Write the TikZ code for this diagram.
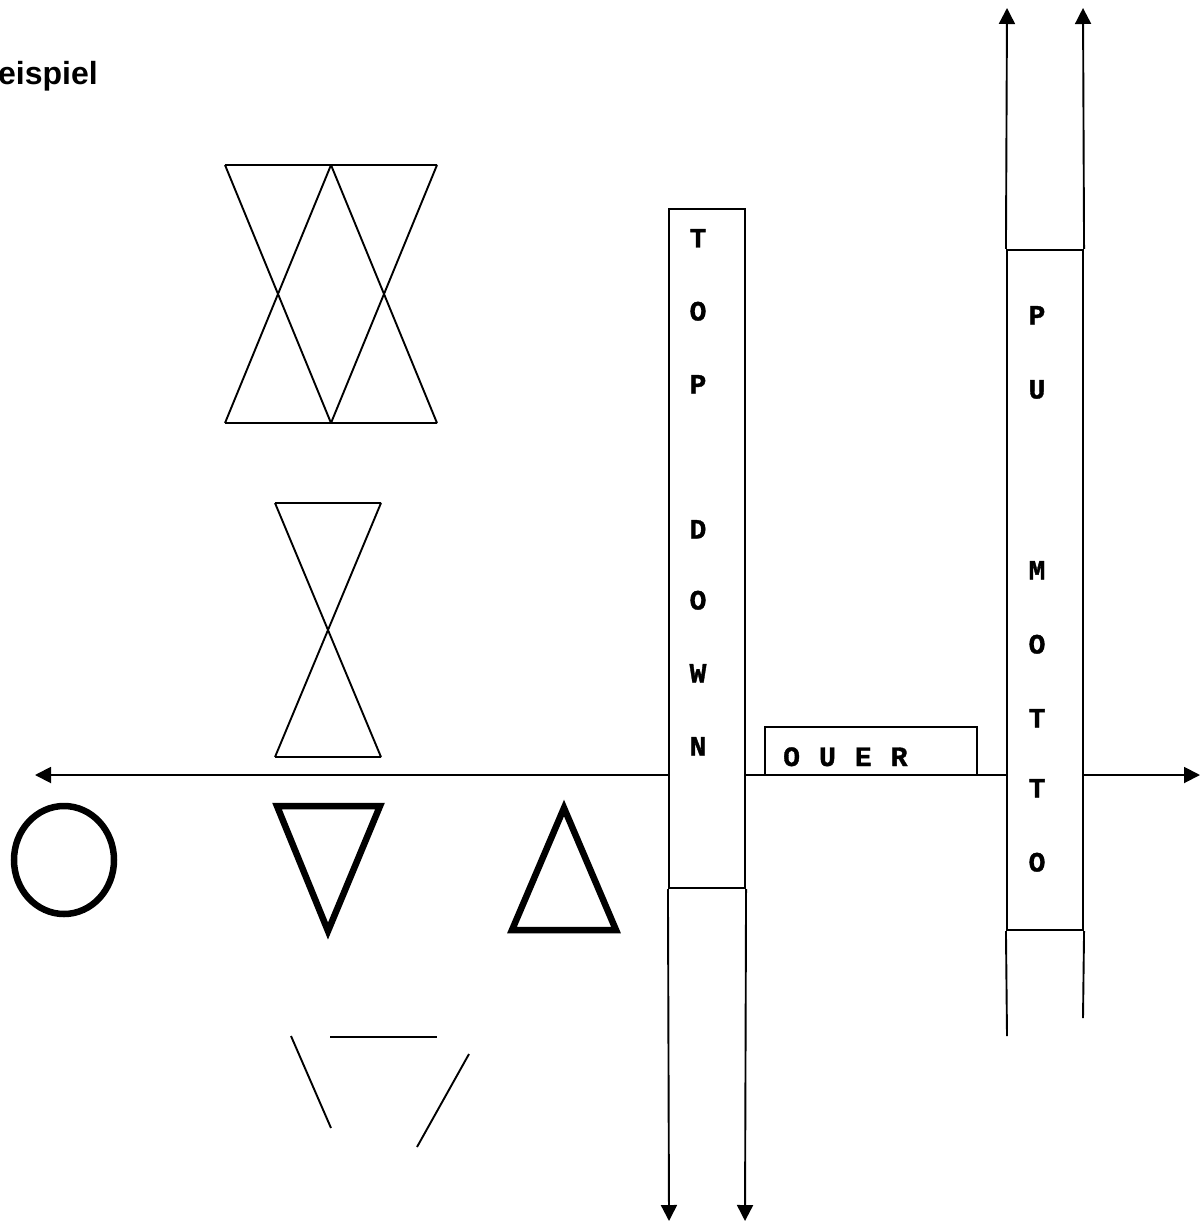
\documentclass[tikz,border=0pt]{standalone}
\usepackage{fontspec}
\setmainfont{Liberation Sans}
\newfontfamily\monob{Liberation Mono}[UprightFont={* Bold},FakeBold=1.2]
\usetikzlibrary{arrows.meta}
\begin{document}
\begin{tikzpicture}[x=1pt,y=-1pt,
  thinline/.style={line width=1.9pt},
  arr/.style={line width=1.9pt,-{Triangle[length=16pt,width=16pt]}},
  biarr/.style={line width=1.9pt,{Triangle[length=16pt,width=16pt]}-{Triangle[length=16pt,width=16pt]}},
  thickshape/.style={line width=6.5pt,line join=miter},
  colbox/.style={draw,fill=white,line width=2.1pt,rectangle,inner sep=0pt,minimum width=76pt},
  letter/.style={font=\monob\fontsize{28}{28}\selectfont,inner sep=0pt,anchor=base},
  title/.style={font=\bfseries\fontsize{32}{32}\selectfont,inner sep=0pt,anchor=base west}
]
\useasboundingbox (0,0) rectangle (1202,1222);
\fill[white] (0,0) rectangle (1202,1222);

% title
\node[title] (ttl) at (-2,85) {eispiel};

% double hourglass
\draw[thinline] (225,165) -- (437,165) (225,423) -- (437,423)
  (225,165) -- (331,423) (331,165) -- (225,423)
  (331,165) -- (437,423) (437,165) -- (331,423);

% single hourglass
\draw[thinline] (275,503) -- (381,503) (275,757) -- (381,757)
  (275,503) -- (381,757) (381,503) -- (275,757);

% horizontal axis
\coordinate (hl) at (35,775);
\coordinate (hr) at (1200,775);
\draw[biarr] (hl) -- (hr);

% thick shapes
\draw[thickshape] (64,860) ellipse [x radius=50, y radius=54];
\draw[thickshape] (277,806) -- (380,806) -- (328,931) -- cycle;
\draw[thickshape] (564,808) -- (616,930) -- (512,930) -- cycle;

% broken triangle
\draw[thinline] (291,1036) -- (331,1128);
\draw[thinline] (330,1037) -- (437,1037);
\draw[thinline] (469,1054) -- (417,1147);

% TOP DOWN column
\node[colbox,minimum height=679pt] (td) at (707,548.5) {};
\coordinate (tdl) at (669,1221);
\coordinate (tdr) at (745,1221);
\draw[arr] (td.south west) -- (tdl);
\draw[arr] (td.south east) -- (tdr);
\foreach \l/\y [count=\i] in {T/238,O/311,P/384,D/529,O/600,W/673,N/746}
  \node[letter] (td\i) at (698,\y+9.5) {\l};

% PU MOTTO column
\node[colbox,minimum height=680pt] (pm) at (1045,590) {};
\coordinate (pmtl) at (1007,8);
\coordinate (pmtr) at (1083,8);
\coordinate (pmbl) at (1007,1036);
\coordinate (pmbr) at (1083,1018);
\draw[arr] (pm.north west) -- (pmtl);
\draw[arr] (pm.north east) -- (pmtr);
\draw[thinline] (pm.south west) -- (pmbl);
\draw[thinline] (pm.south east) -- (pmbr);
\foreach \l/\y [count=\i] in {P/315,U/389,M/570,O/644,T/718,T/788,O/862}
  \node[letter] (pm\i) at (1037,\y+9.5) {\l};

% OUER box
\node[draw,fill=white,line width=2.1pt,rectangle,inner sep=0pt,minimum width=212pt,minimum height=48pt] (ouer) at (871,751) {};
\node[font=\monob\fontsize{28}{28}\selectfont\addfontfeature{LetterSpace=8},inner sep=0pt,anchor=base west] (ouert) at (783,766) {O U E R};
\end{tikzpicture}
\end{document}
